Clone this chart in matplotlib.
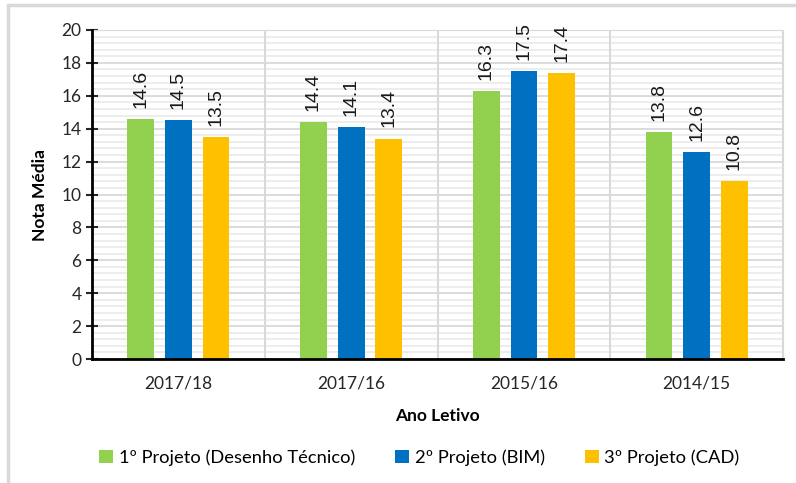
import numpy as np
import matplotlib.pyplot as plt
from matplotlib.ticker import MultipleLocator
from matplotlib.patches import Rectangle

anos = ['2017/18', '2017/16', '2015/16', '2014/15']
projeto1 = [14.6, 14.4, 16.3, 13.8]
projeto2 = [14.5, 14.1, 17.5, 12.6]
projeto3 = [13.5, 13.4, 17.4, 10.8]
series = ['1º Projeto (Desenho Técnico)', '2º Projeto (BIM)', '3º Projeto (CAD)']
cores = ['#92D050', '#0070C0', '#FFC000']

plt.rcParams['font.family'] = ['Lato', 'DejaVu Sans']

fig = plt.figure(figsize=(7.96, 4.83), dpi=100)
ax = fig.add_axes([0.1156, 0.2567, 0.8681, 0.6812])
ax.set_axisbelow(True)

# light gray frame around the chart (cropped at right/bottom)
fig.patches.append(Rectangle((8 / 796, -0.1), 1.2, 1 - 5 / 483 + 0.1,
                             transform=fig.transFigure, fill=False,
                             edgecolor='#d9d9d9', linewidth=2.5))

x = np.arange(len(anos))
offs = [-0.218, 0, 0.218]
for vals, off, cor, nome in zip([projeto1, projeto2, projeto3], offs, cores, series):
    bars = ax.bar(x + off, vals, width=0.155, color=cor, label=nome, zorder=3)
    for b, v in zip(bars, vals):
        ax.annotate(f'{v:.1f}', (b.get_x() + b.get_width() / 2, v),
                    xytext=(0, 8), textcoords='offset points', rotation=90,
                    ha='center', va='bottom', fontsize=14,
                    family='Liberation Sans', color='#1a1a1a')

ax.set_xlim(-0.5, 3.5)
ax.set_ylim(0, 20)
ax.yaxis.set_major_locator(MultipleLocator(2))
ax.yaxis.set_minor_locator(MultipleLocator(0.4))
ax.grid(axis='y', which='minor', color='#ececec', linewidth=1.3)
ax.grid(axis='y', which='major', color='#d9d9d9', linewidth=1.3)
for xv in [0.5, 1.5, 2.5, 3.5]:
    ax.axvline(xv, color='#d9d9d9', linewidth=1.5, zorder=1)

ax.set_xticks(x)
ax.set_xticklabels(anos)
ax.tick_params(axis='x', length=0, labelsize=12.5, pad=12, colors='#262626')
ax.tick_params(axis='y', which='major', direction='inout', length=8, width=1.5,
               labelsize=12.5, colors='#262626')
ax.tick_params(axis='y', which='minor', length=0)

ax.spines['top'].set_color('#d9d9d9')
ax.spines['right'].set_color('#d9d9d9')
ax.spines['left'].set_linewidth(2)
ax.spines['bottom'].set_linewidth(2)
ax.spines['left'].set_zorder(5)
ax.spines['bottom'].set_zorder(5)

ax.set_ylabel('Nota Média', fontsize=12.5, fontweight='bold', labelpad=10)
ax.set_xlabel('Ano Letivo', fontsize=12.5, fontweight='bold', labelpad=12)

ax.legend(loc='center', bbox_to_anchor=(0.474, -0.3), ncol=3, frameon=False,
          fontsize=13.2, handlelength=0.75, handleheight=0.75, handletextpad=0.3,
          columnspacing=2.2)

fig.savefig('out.png', dpi=100)
